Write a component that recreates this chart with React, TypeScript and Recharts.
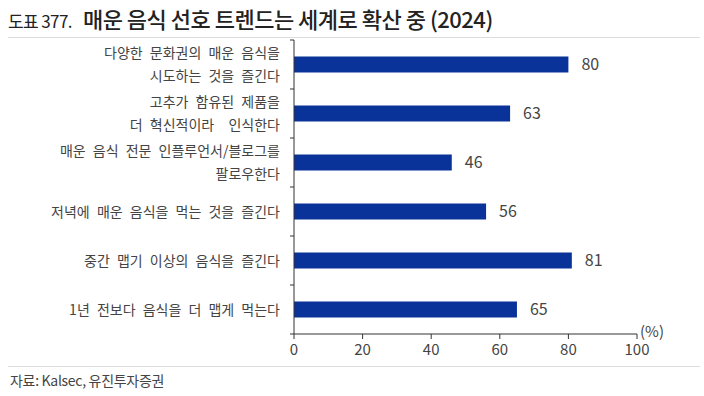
import React from 'react';
import { BarChart, Bar, XAxis, YAxis, LabelList } from 'recharts';

const categories: string[] = [
  '다양한 문화권의 매운 음식을\n시도하는 것을 즐긴다',
  '고추가 함유된 제품을\n더 혁신적이라  인식한다',
  '매운 음식 전문 인플루언서/블로그를\n팔로우한다',
  '저녁에 매운 음식을 먹는 것을 즐긴다',
  '중간 맵기 이상의 음식을 즐긴다',
  '1년 전보다 음식을 더 맵게 먹는다',
];
const values: number[] = [80, 63, 46, 56, 81, 65];
const xTicks: number[] = [0, 20, 40, 60, 80, 100];

const data = categories.map((c, i) => ({ name: c, value: values[i] }));

const FONT = '"Noto Sans CJK KR", "Noto Sans", sans-serif';
const TOP = 40;
const BOTTOM_AXIS_Y = 334;
const BAND = (BOTTOM_AXIS_Y - TOP) / categories.length;

const YTick = (props: any) => {
  const { x, y, payload, index } = props;
  const lines: string[] = String(payload.value).split('\n');
  const lh = 23;
  const start = y - ((lines.length - 1) * lh) / 2;
  const ax = x + 14;
  return (
    <g>
      <text x={x} textAnchor="end" fill="#444" fontSize={14} fontFamily={FONT} style={{ wordSpacing: '4px', whiteSpace: 'pre' }}>
        {lines.map((l, i) => (
          <tspan key={i} x={x} y={start + i * lh} dy="0.36em">
            {l}
          </tspan>
        ))}
      </text>
      <line x1={ax - 4} x2={ax} y1={y - BAND / 2} y2={y - BAND / 2} stroke="#333" />
      {index === categories.length - 1 && (
        <line x1={ax - 4} x2={ax} y1={y + BAND / 2} y2={y + BAND / 2} stroke="#333" />
      )}
    </g>
  );
};

export default function App() {
  return (
    <div style={{ position: 'absolute', left: 0, top: 0, width: 704, height: 396, background: '#fff', fontFamily: FONT }}>
      <div style={{ position: 'absolute', left: 8, top: 2, whiteSpace: 'nowrap', color: '#222', display: 'flex', alignItems: 'baseline' }}>
        <span style={{ fontSize: 17, letterSpacing: '-0.6px', marginRight: 11 }}>도표 377.</span>
        <span style={{ fontSize: 22, fontWeight: 500, letterSpacing: '-0.5px' }}>매운 음식 선호 트렌드는 세계로 확산 중 (2024)</span>
      </div>
      <div style={{ position: 'absolute', left: 8, top: 37, width: 692, height: 1, background: '#dcdcdc' }} />
      <BarChart
        width={704}
        height={396}
        data={data}
        layout="vertical"
        margin={{ top: TOP, right: 67, bottom: 32, left: 8 }}
        barCategoryGap={16.5}
      >
        <XAxis
          type="number"
          domain={[0, 100]}
          ticks={xTicks}
          height={30}
          tickSize={5}
          tickMargin={5}
          stroke="#333"
          tick={{ fill: '#444', fontSize: 15, fontFamily: FONT }}
          interval={0}
        />
        <YAxis
          type="category"
          dataKey="name"
          width={286}
          tickSize={4}
          tickMargin={10}
          tickLine={false}
          stroke="#333"
          tick={<YTick />}
          interval={0}
        />
        <Bar dataKey="value" fill="#0a3399" isAnimationActive={false}>
          <LabelList dataKey="value" position="right" offset={13} fill="#444" fontSize={16} fontFamily={FONT} />
        </Bar>
      </BarChart>
      <div style={{ position: 'absolute', left: 640, top: 320, fontSize: 15, color: '#444' }}>(%)</div>
      <div style={{ position: 'absolute', left: 8, top: 366, width: 692, height: 1, background: '#dcdcdc' }} />
      <div style={{ position: 'absolute', left: 10, top: 370, fontSize: 14, color: '#444', letterSpacing: '-0.3px' }}>자료: Kalsec, 유진투자증권</div>
    </div>
  );
}
